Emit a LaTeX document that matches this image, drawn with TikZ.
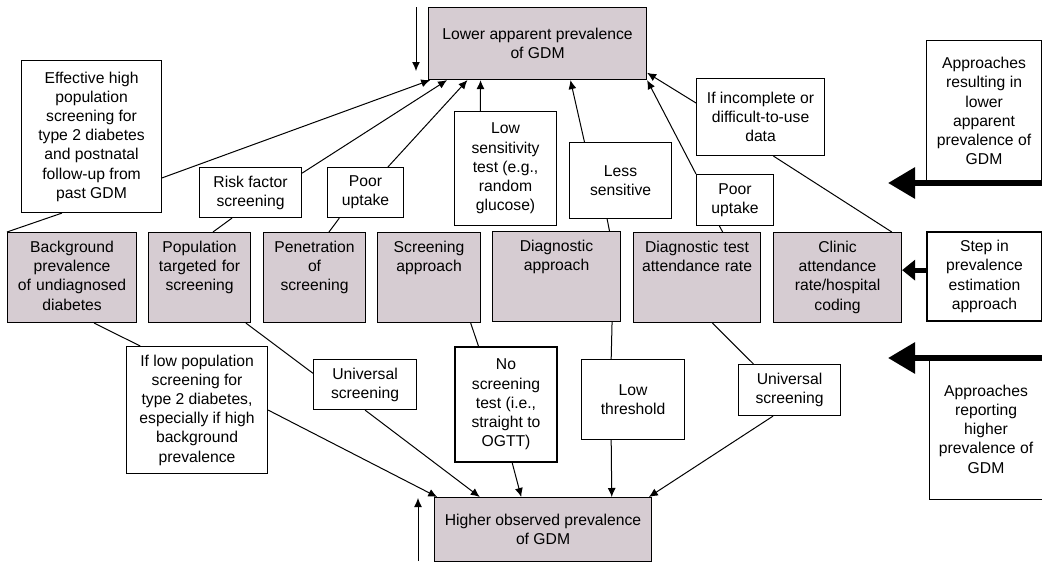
\documentclass[tikz,border=0pt]{standalone}
\usepackage{fontspec}
\setmainfont{Liberation Sans}
\usetikzlibrary{calc}
\usetikzlibrary{positioning}
\usetikzlibrary{arrows.meta}
\definecolor{stagefill}{RGB}{214,204,210}

\begin{document}
\begin{tikzpicture}[x=1pt,y=-1pt,
  font=\fontsize{15.7}{19.2}\selectfont,
  note/.style={draw,line width=1.1pt,align=center,inner sep=2pt,anchor=north west},
  outcome/.style={note,fill=stagefill},
  stage/.style={note,fill=stagefill,inner xsep=3pt,inner ysep=3pt,text height=17pt,text depth=67pt},
  link/.style={line width=1pt},
  conn/.style={line width=1pt,-{Latex[length=9pt,width=8pt]}},
  bigarrow/.style={line width=6pt,-{Triangle[length=27pt,width=30pt]}},
  stepper/.style={line width=5pt,-{Triangle[length=13pt,width=20pt]}}]

\useasboundingbox (0,0) rectangle (1042,562);

\node[outcome,minimum width=218,minimum height=72] (top) at (428,7) {Lower apparent prevalence\\of GDM};
\node[outcome,minimum width=217,minimum height=64] (bot) at (434,497) {Higher observed prevalence\\of GDM};

\node[note,minimum width=140,minimum height=152] (eff) at (21,60) {Effective high\\population\\screening for\\type 2 diabetes\\and postnatal\\follow-up from\\past GDM};
\node[note,minimum width=102,minimum height=50] (risk) at (199,167) {Risk factor\\screening};
\node[note,minimum width=76,minimum height=50] (poorA) at (327,167) {Poor\\uptake};
\node[note,minimum width=102,minimum height=114] (lowsens) at (454,111) {Low\\sensitivity\\test (e.g.,\\random\\glucose)};
\node[note,minimum width=102,minimum height=76] (less) at (569,142) {Less\\sensitive};
\node[note,minimum width=77,minimum height=51] (poorB) at (696,174) {Poor\\uptake};
\node[note,minimum width=128,minimum height=77] (incomp) at (696,78) {If incomplete or\\difficult-to-use\\data};

\node[stage,text width=123pt] (bg) at (7,232) {Background\\prevalence\\of undiagnosed\\diabetes};
\node[stage,text width=96pt] (pop) at (148,232) {Population\\targeted for\\screening};
\node[stage,text width=96pt] (pen) at (263,232) {Penetration\\of\\screening};
\node[stage,text width=97pt] (scr) at (377,232) {Screening\\approach};
\node[stage,text width=122pt] (diag) at (492,231) {Diagnostic\\approach};
\node[stage,text width=121pt] (dtest) at (633,232) {Diagnostic test\\attendance rate};
\node[stage,text width=122pt] (clinic) at (773,232) {Clinic\\attendance\\rate/hospital\\coding};

\node[note,minimum width=141,minimum height=127] (iflow) at (126,346) {If low population\\screening for\\type 2 diabetes,\\especially if high\\background\\prevalence};
\node[note,minimum width=103,minimum height=50] (univA) at (313,359) {Universal\\screening};
\node[note,line width=2pt,minimum width=102,minimum height=115] (noscr) at (454,346) {No\\screening\\test (i.e.,\\straight to\\OGTT)};
\node[note,minimum width=103,minimum height=80] (low) at (581,359) {Low\\threshold};
\node[note,minimum width=102,minimum height=51] (univB) at (738,364) {Universal\\screening};

\node[note,minimum width=115,minimum height=141] (lowkey) at (926,40) {Approaches\\resulting in\\lower\\apparent\\prevalence of\\GDM};
\node[note,line width=2pt,minimum width=115,minimum height=89] (stepkey) at (926,231) {Step in\\prevalence\\estimation\\approach};
\node[note,minimum width=113,minimum height=141] (highkey) at (929,358) {Approaches\\reporting\\higher\\prevalence of\\GDM};

% into the lower outcome
\draw[conn] ($(eff.north east)!0.77!(eff.south east)$) -- ($(top.south west)!0.01!(top.south east)$);
\draw[conn] ($(risk.north east)!0.12!(risk.south east)$) -- ($(top.south west)!0.087!(top.south east)$);
\draw[conn] ($(poorA.north west)!0.79!(poorA.north east)$) -- ($(top.south west)!0.18!(top.south east)$);
\draw[conn] ($(lowsens.north west)!0.255!(lowsens.north east)$) -- ($(top.south west)!0.24!(top.south east)$);
\draw[conn] ($(less.north west)!0.15!(less.north east)$) -- ($(top.south west)!0.65!(top.south east)$);
\draw[conn] (poorB.north west) -- (top.south east);
\draw[conn] ($(incomp.north west)!0.32!(incomp.south west)$) -- ($(top.north east)!0.9!(top.south east)$);

\draw[link] ($(eff.south west)!0.29!(eff.south east)$) -- (bg.north west);
\draw[link] ($(risk.south west)!0.32!(risk.south east)$) -- ($(pop.north west)!0.63!(pop.north east)$);
\draw[link] ($(poorA.south west)!0.16!(poorA.south east)$) -- ($(pen.north west)!0.64!(pen.north east)$);
\draw[link] ($(less.south west)!0.37!(less.south east)$) -- ($(diag.north west)!0.91!(diag.north east)$);
\draw[link] ($(poorB.south west)!0.3!(poorB.south east)$) -- ($(dtest.north west)!0.7!(dtest.north east)$);
\draw[link] ($(incomp.south west)!0.6!(incomp.south east)$) -- ($(clinic.north west)!0.92!(clinic.north east)$);

% into the higher outcome
\draw[link] ($(bg.south west)!0.67!(bg.south east)$) -- ($(iflow.north west)!0.1!(iflow.north east)$);
\draw[link] ($(pop.south west)!0.95!(pop.south east)$) -- ($(univA.north west)!0.28!(univA.south west)$);
\draw[link] ($(scr.south west)!0.9!(scr.south east)$) -- ($(noscr.north west)!0.235!(noscr.north east)$);
\draw[link] ($(diag.south west)!0.93!(diag.south east)$) -- ($(low.north west)!0.29!(low.north east)$);
\draw[link] ($(dtest.south west)!0.62!(dtest.south east)$) -- ($(univB.north west)!0.15!(univB.north east)$);

\draw[conn] (iflow.east) -- ($(bot.north west)!0.015!(bot.north east)$);
\draw[conn] (univA.south) -- ($(bot.north west)!0.21!(bot.north east)$);
\draw[conn] ($(noscr.south west)!0.56!(noscr.south east)$) -- ($(bot.north west)!0.4!(bot.north east)$);
\draw[conn] ($(low.south west)!0.29!(low.south east)$) -- ($(bot.north west)!0.815!(bot.north east)$);
\draw[conn] ($(univB.south west)!0.34!(univB.south east)$) -- ($(bot.north west)!0.985!(bot.north east)$);

\coordinate (lowin) at (416,7);
\coordinate (lowend) at (416,71);
\draw[conn] (lowin) -- (lowend);
\coordinate (highin) at (418,561);
\coordinate (highend) at (418,498);
\draw[conn] (highin) -- (highend);

% key arrows
\coordinate (lowtail) at (1042,183);
\coordinate (lowtip) at (888,183);
\draw[bigarrow] (lowtail) -- (lowtip);
\coordinate (hightail) at (1042,358);
\coordinate (hightip) at (888,358);
\draw[bigarrow] (hightail) -- (hightip);
\coordinate (steptail) at ($(stepkey.north west)!0.43!(stepkey.south west)$);
\draw[stepper] (steptail) -- (steptail -| clinic.east);

\end{tikzpicture}
\end{document}
